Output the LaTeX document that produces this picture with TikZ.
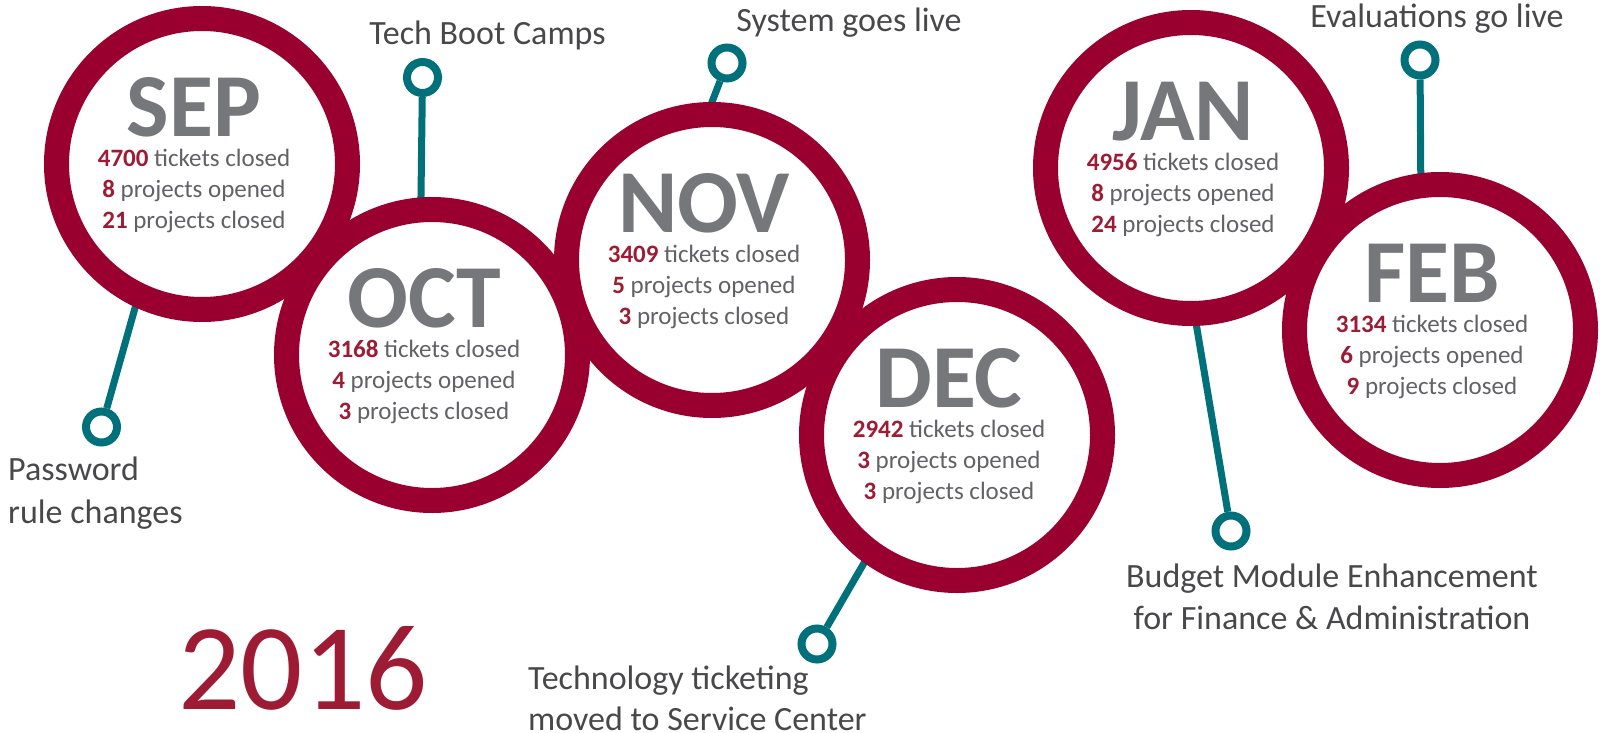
\documentclass[tikz,border=0pt]{standalone}
\usepackage{fontspec}
\setmainfont{Carlito}
\usetikzlibrary{backgrounds}
\definecolor{ring}{HTML}{990030}
\definecolor{numc}{RGB}{158,27,52}
\definecolor{monc}{RGB}{118,119,123}
\definecolor{statc}{RGB}{98,98,102}
\definecolor{tealc}{RGB}{0,112,122}
\definecolor{labc}{RGB}{72,72,74}
\newcommand\numb[1]{{\bfseries\color{numc}#1}}
\begin{document}
\begin{tikzpicture}[x=1pt,y=-1pt,
  month/.style={anchor=base, inner sep=0pt, text=monc, text height=59pt, text depth=0pt, font=\fontsize{90}{90}\selectfont\bfseries},
  statline/.style={anchor=base, inner sep=0pt, text=statc, text height=18pt, text depth=5pt, font=\fontsize{25}{31}\selectfont},
  ringnode/.style={circle, draw=ring, line width=25pt, fill=white, minimum size=291pt, inner sep=0pt},
  pinring/.style={circle, draw=tealc, line width=8pt, fill=white, minimum size=31pt, inner sep=0pt},
  pinline/.style={draw=tealc, line width=7pt, shorten >=-10pt},
  lab/.style={inner sep=0pt, text=labc, font=\fontsize{34}{42}\selectfont},
  year/.style={anchor=base, inner sep=0pt, text=numc, text depth=0pt, font=\fontsize{123}{123}\selectfont},
]
\useasboundingbox (0,0) rectangle (1600,733);

% rings
\node[ringnode] (sep) at (202,164) {};
\node[ringnode] (oct) at (432,355) {};
\node[ringnode] (nov) at (712,260) {};
\node[ringnode] (dec) at (957,435) {};
\node[ringnode] (jan) at (1191,168) {};
\node[ringnode] (feb) at (1440,330) {};

% month texts
\node[month] (sepm) at (194,136) {SEP};
\node[statline] (sep1) at (194,166) {\numb{4700} tickets closed};
\node[statline] (sep2) at (194,197) {\numb{8} projects opened};
\node[statline] (sep3) at (194,228) {\numb{21} projects closed};

\node[month] (octm) at (424,327) {OCT};
\node[statline] (oct1) at (424,357) {\numb{3168} tickets closed};
\node[statline] (oct2) at (424,388) {\numb{4} projects opened};
\node[statline] (oct3) at (424,419) {\numb{3} projects closed};

\node[month] (novm) at (704,232) {NOV};
\node[statline] (nov1) at (704,262) {\numb{3409} tickets closed};
\node[statline] (nov2) at (704,293) {\numb{5} projects opened};
\node[statline] (nov3) at (704,324) {\numb{3} projects closed};

\node[month] (decm) at (949,407) {DEC};
\node[statline] (dec1) at (949,437) {\numb{2942} tickets closed};
\node[statline] (dec2) at (949,468) {\numb{3} projects opened};
\node[statline] (dec3) at (949,499) {\numb{3} projects closed};

\node[month] (janm) at (1183,140) {JAN};
\node[statline] (jan1) at (1183,170) {\numb{4956} tickets closed};
\node[statline] (jan2) at (1183,201) {\numb{8} projects opened};
\node[statline] (jan3) at (1183,232) {\numb{24} projects closed};

\node[month] (febm) at (1432,302) {FEB};
\node[statline] (feb1) at (1432,332) {\numb{3134} tickets closed};
\node[statline] (feb2) at (1432,363) {\numb{6} projects opened};
\node[statline] (feb3) at (1432,394) {\numb{9} projects closed};

% pins
\node[pinring] (psep) at (101.5,427) {};
\node[pinring] (poct) at (422.5,77.5) {};
\node[pinring] (pnov) at (727,63) {};
\node[pinring] (pdec) at (817,644) {};
\node[pinring] (pjan) at (1231,531) {};
\node[pinring] (pfeb) at (1420,60) {};

\begin{scope}[on background layer]
\draw[pinline] (psep) -- (sep.245);
\draw[pinline] (poct) -- (oct.94);
\draw[pinline] (pnov) -- (nov.90);
\draw[pinline] (pdec) -- (dec.234);
\draw[pinline] (pjan) -- (jan.272);
\draw[pinline] (pfeb) -- (feb.97);
\end{scope}

% labels
\node[lab, anchor=base] (ltbc) at (487.5,45) {Tech Boot Camps};
\node[lab, anchor=base] (lsgl) at (849,32) {System goes live};
\node[lab, anchor=base] (lego) at (1437,28) {Evaluations go live};
\node[lab, anchor=base west] (lpw1) at (8,480) {Password};
\node[lab, anchor=base west] (lpw2) at (8,523) {rule changes};
\node[lab, anchor=base west] (ltt1) at (528,689) {Technology ticketing};
\node[lab, anchor=base west, text depth=0pt] (ltt2) at (528,730) {moved to Service Center};
\node[lab, anchor=base] (lbm1) at (1332,587) {Budget Module Enhancement};
\node[lab, anchor=base] (lbm2) at (1332,629) {for Finance \& Administration};

\node[year] (yr) at (303,709) {2016};
\end{tikzpicture}
\end{document}
